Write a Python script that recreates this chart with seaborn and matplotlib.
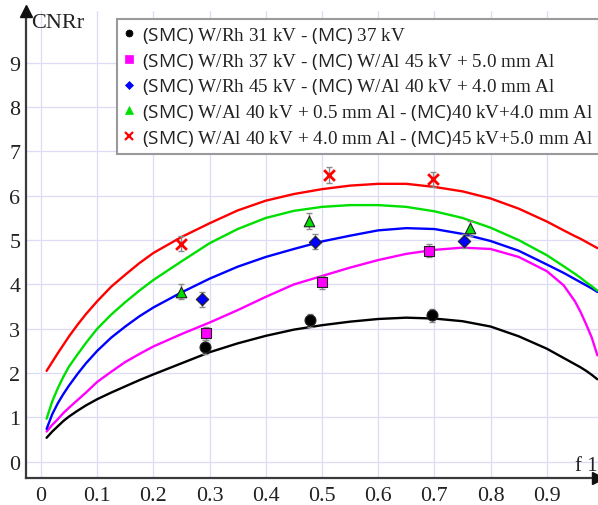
import numpy as np
import pandas as pd
import matplotlib
matplotlib.use("Agg")
import matplotlib.pyplot as plt
from matplotlib.lines import Line2D
import seaborn as sns

# ---- measured points (f1, CNRr, error) ----
f1_smc_rh31 = [0.292, 0.479, 0.696]
cnr_smc_rh31 = [2.59, 3.19, 3.30]
err_smc_rh31 = [0.15, 0.15, 0.15]

f1_smc_rh37 = [0.293, 0.500, 0.691]
cnr_smc_rh37 = [2.90, 4.05, 4.76]
err_smc_rh37 = [0.15, 0.15, 0.15]

f1_smc_rh45 = [0.286, 0.488, 0.752]
cnr_smc_rh45 = [3.66, 4.96, 4.98]
err_smc_rh45 = [0.17, 0.17, 0.15]

f1_smc_al05 = [0.249, 0.477, 0.763]
cnr_smc_al05 = [3.83, 5.44, 5.27]
err_smc_al05 = [0.17, 0.18, 0.17]

f1_smc_al40 = [0.249, 0.513, 0.697]
cnr_smc_al40 = [4.92, 6.47, 6.37]
err_smc_al40 = [0.17, 0.17, 0.17]

# ---- model curves (MC) sampled along f1 ----
f1_curve = [0.01, 0.02, 0.03, 0.04, 0.05, 0.065, 0.08, 0.1, 0.125, 0.15,
            0.175, 0.2, 0.25, 0.3, 0.35, 0.4, 0.45, 0.5, 0.55, 0.6, 0.65,
            0.7, 0.75, 0.8, 0.85, 0.9, 0.93, 0.95, 0.96, 0.97, 0.98, 0.99]
mc_37kv = [0.54, 0.68, 0.80, 0.92, 1.02, 1.15, 1.27, 1.41, 1.56, 1.70, 1.84,
           1.97, 2.22, 2.47, 2.67, 2.84, 2.98, 3.08, 3.16, 3.22, 3.25, 3.23,
           3.17, 3.05, 2.83, 2.55, 2.34, 2.20, 2.13, 2.05, 1.96, 1.86]
mc_al45_50 = [0.68, 0.83, 0.96, 1.10, 1.22, 1.39, 1.56, 1.80, 2.03, 2.25,
              2.43, 2.60, 2.88, 3.14, 3.42, 3.72, 4.00, 4.19, 4.38, 4.55,
              4.69, 4.78, 4.83, 4.80, 4.62, 4.30, 3.98, 3.62, 3.38, 3.10,
              2.80, 2.40]
mc_al40_40 = [0.74, 1.07, 1.32, 1.53, 1.72, 1.98, 2.22, 2.50, 2.80, 3.05,
              3.28, 3.48, 3.82, 4.13, 4.40, 4.62, 4.80, 4.97, 5.10, 5.22,
              5.27, 5.25, 5.14, 4.98, 4.76, 4.45, 4.26, 4.12, 4.05, 3.98,
              3.91, 3.83]
mc_40_40 = [0.97, 1.36, 1.66, 1.92, 2.15, 2.42, 2.68, 3.00, 3.32, 3.60, 3.86,
            4.10, 4.52, 4.93, 5.25, 5.50, 5.66, 5.75, 5.79, 5.79, 5.75, 5.65,
            5.50, 5.28, 5.00, 4.66, 4.41, 4.24, 4.15, 4.05, 3.96, 3.86]
mc_45_50 = [2.05, 2.25, 2.45, 2.64, 2.83, 3.09, 3.33, 3.62, 3.95, 4.22, 4.48,
            4.71, 5.07, 5.38, 5.67, 5.89, 6.04, 6.15, 6.23, 6.27, 6.27, 6.20,
            6.10, 5.94, 5.71, 5.42, 5.22, 5.09, 5.03, 4.96, 4.89, 4.82]

labels = [
    r"$\mathsf{(SMC)}$ W/Rh 31 kV - $\mathsf{(MC)}$ 37 kV",
    r"$\mathsf{(SMC)}$ W/Rh 37 kV - $\mathsf{(MC)}$ W/Al 45 kV + 5.0 mm Al",
    r"$\mathsf{(SMC)}$ W/Rh 45 kV - $\mathsf{(MC)}$ W/Al 40 kV + 4.0 mm Al",
    r"$\mathsf{(SMC)}$ W/Al 40 kV + 0.5 mm Al - $\mathsf{(MC)}$40 kV+4.0 mm Al",
    r"$\mathsf{(SMC)}$ W/Al 40 kV + 4.0 mm Al - $\mathsf{(MC)}$45 kV+5.0 mm Al",
]
colors = ["#000000", "#ff00ff", "#0000ff", "#00e000", "#ff0000"]
markers = ["o", "s", "D", "^", "x"]
marker_sizes = [62, 62, 40, 58, 60]

x_ticks = [0, 0.1, 0.2, 0.3, 0.4, 0.5, 0.6, 0.7, 0.8, 0.9]
x_tick_labels = ["0", "0.1", "0.2", "0.3", "0.4", "0.5", "0.6", "0.7", "0.8", "0.9"]
y_ticks = [0, 1, 2, 3, 4, 5, 6, 7, 8, 9]

sns.set_style("white")
plt.rcParams["font.family"] = ["Liberation Serif", "DejaVu Serif"]
plt.rcParams["mathtext.fontset"] = "custom"
plt.rcParams["mathtext.sf"] = "Open Sans"
plt.rcParams["mathtext.rm"] = "Liberation Serif"

W, H = 598, 506
fig = plt.figure(figsize=(W / 100, H / 100), dpi=100)
ax = fig.add_axes([25.7 / W, (H - 479) / H, (W - 25.7) / W, (479 - 12) / H])

# model curves
curves = [mc_37kv, mc_al45_50, mc_al40_40, mc_40_40, mc_45_50]
for y, c in zip(curves, colors):
    dfc = pd.DataFrame({"f1": f1_curve, "CNRr": y})
    sns.lineplot(data=dfc, x="f1", y="CNRr", color=c, lw=1.7, ax=ax,
                 estimator=None, sort=False, zorder=3)

# measured points with error bars
points = [
    (f1_smc_rh31, cnr_smc_rh31, err_smc_rh31),
    (f1_smc_rh37, cnr_smc_rh37, err_smc_rh37),
    (f1_smc_rh45, cnr_smc_rh45, err_smc_rh45),
    (f1_smc_al05, cnr_smc_al05, err_smc_al05),
    (f1_smc_al40, cnr_smc_al40, err_smc_al40),
]
for (fx, fy, fe), c, m, s in zip(points, colors, markers, marker_sizes):
    ax.errorbar(fx, fy, yerr=fe, fmt="none", ecolor="#8a8a8a", elinewidth=1.0,
                capsize=2.5, capthick=1.0, zorder=4)
    dfp = pd.DataFrame({"f1": fx, "CNRr": fy})
    if m == "x":
        sns.scatterplot(data=dfp, x="f1", y="CNRr", marker="x", s=s, color=c,
                        linewidth=2.0, ax=ax, zorder=5)
    else:
        sns.scatterplot(data=dfp, x="f1", y="CNRr", marker=m, s=s, color=c,
                        edgecolor="#222222", linewidth=0.8, ax=ax, zorder=5)

ax.set_xlim(-0.0272, 0.9911)
ax.set_ylim(-0.368, 10.17)
ax.set_xticks(x_ticks)
ax.set_xticklabels(x_tick_labels)
ax.set_yticks(y_ticks)
ax.set_xlabel("")
ax.set_ylabel("")
ax.grid(True, color="#dcdcf6", lw=0.9)
ax.set_axisbelow(True)
for side in ["top", "right"]:
    ax.spines[side].set_visible(False)
for side in ["left", "bottom"]:
    ax.spines[side].set_color("#3a3a3a")
    ax.spines[side].set_linewidth(1.6)
ax.tick_params(axis="both", labelsize=15.8, colors="#222222", width=1.0)
ax.tick_params(axis="y", direction="out", length=3.6, pad=0.3)
ax.tick_params(axis="x", direction="inout", length=4.5, pad=3.2)

# axis arrow heads
ax.plot([0], [1], marker="^", markersize=9, color="#111111",
        transform=ax.transAxes, clip_on=False, zorder=6)
ax.plot([1], [0], marker=">", markersize=9, color="#111111",
        transform=ax.transAxes, clip_on=False, zorder=6)

fig.text(31 / W, 1 - 28 / H, "CNRr", fontsize=16, va="baseline",
         ha="left", color="#222222")
fig.text(575 / W, 1 - 471 / H, "f 1", fontsize=15, va="baseline",
         ha="left", color="#222222")

handles = [Line2D([], [], ls="none", marker=m, color=c, markersize=ms,
                  markeredgewidth=1.6 if m == "x" else 0.5)
           for m, c, ms in zip(markers, colors, [5, 5.5, 4.5, 5.5, 6])]
leg = fig.legend(handles, labels, loc="upper left",
                 bbox_to_anchor=(117 / W, 1 - 20 / H), fontsize=13.8,
                 frameon=True, fancybox=False, framealpha=1.0,
                 borderaxespad=0, handlelength=0.6, handletextpad=0.4,
                 labelspacing=0.3, borderpad=0.3)
leg.get_frame().set_edgecolor("#9a9a9a")
leg.get_frame().set_linewidth(1.5)
for t in leg.get_texts():
    t.set_color("#222222")

fig.savefig("out.png", dpi=100)
